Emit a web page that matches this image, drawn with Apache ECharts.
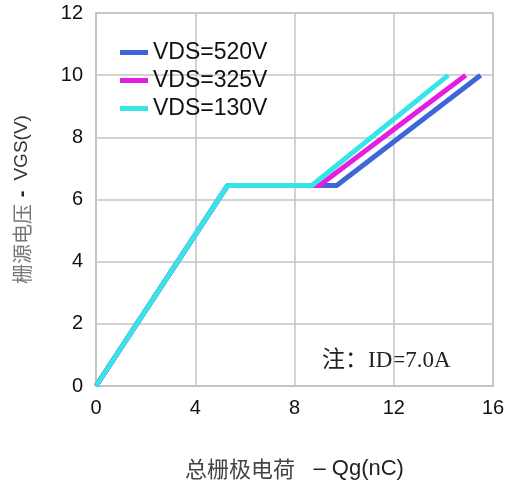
<!DOCTYPE html>
<html>
<head>
<meta charset="utf-8">
<script src="https://cdn.jsdelivr.net/npm/echarts@6/dist/echarts.min.js"></script>
<style>
  html, body { margin: 0; padding: 0; background: #fff; }
  #chart { width: 510px; height: 485px; }
</style>
</head>
<body>
<div id="chart"></div>
<script>
// 系列名称
const seriesNames = ["VDS=520V", "VDS=325V", "VDS=130V"];
const seriesColors = ["#3d66d8", "#e41ee0", "#35e6e8"];

// 各条曲线的 [Qg, VGS] 折点
const vds520 = [[0, 0], [5.3, 6.45], [9.7, 6.45], [15.5, 10]];
const vds325 = [[0, 0], [5.3, 6.45], [9.0, 6.45], [14.9, 10]];
const vds130 = [[0, 0], [5.3, 6.45], [8.7, 6.45], [14.2, 10]];

// 坐标轴刻度
const xTicks = [0, 4, 8, 12, 16];
const yTicks = [0, 2, 4, 6, 8, 10, 12];

const chart = echarts.init(document.getElementById("chart"));

const dataList = [vds520, vds325, vds130];

const option = {
  animation: false,
  grid: {
    left: 96,
    right: 17,
    top: 13,
    bottom: 96,
    show: true,
    borderColor: "#c4c4c4",
    borderWidth: 1.5,
  },
  legend: {
    orient: "vertical",
    left: 115,
    top: 36,
    itemWidth: 28,
    itemHeight: 5,
    itemGap: 5,
    icon: "rect",
    textStyle: {
      fontFamily: "Liberation Sans, Arial",
      fontSize: 23,
      color: "#111",
    },
    data: seriesNames,
  },
  xAxis: {
    type: "value",
    min: xTicks[0],
    max: xTicks[xTicks.length - 1],
    interval: 4,
    name: "{cn|总栅极电荷}{en|   – Qg(nC)}",
    nameLocation: "middle",
    nameGap: 72,
    nameTextStyle: {
      rich: {
        cn: { fontFamily: "Noto Sans CJK SC", fontSize: 22, color: "#444" },
        en: { fontFamily: "Liberation Sans, Arial", fontSize: 22, color: "#222" },
      },
    },
    axisLine: { show: true, lineStyle: { color: "#c4c4c4", width: 1.5 } },
    axisTick: { show: false },
    axisLabel: {
      fontFamily: "Liberation Sans, Arial",
      fontSize: 20,
      color: "#111",
      margin: 12,
    },
    splitLine: { show: true, lineStyle: { color: "#c4c4c4", width: 1.5 } },
  },
  yAxis: {
    type: "value",
    min: yTicks[0],
    max: yTicks[yTicks.length - 1],
    interval: 2,
    name: "{cn|栅源电压}  {d|-}   {en|VGS(V)}",
    nameLocation: "middle",
    nameGap: 64,
    nameRotate: 90,
    nameTextStyle: {
      rich: {
        cn: { fontFamily: "Noto Sans CJK SC", fontSize: 20, color: "#777" },
        d: { fontFamily: "Liberation Sans, Arial", fontSize: 20, fontWeight: "bold", color: "#222" },
        en: { fontFamily: "Liberation Sans, Arial", fontSize: 19, color: "#333" },
      },
    },
    axisLine: { show: true, lineStyle: { color: "#c4c4c4", width: 1.5 } },
    axisTick: { show: false },
    axisLabel: {
      fontFamily: "Liberation Sans, Arial",
      fontSize: 20,
      color: "#111",
      margin: 13,
    },
    splitLine: { show: true, lineStyle: { color: "#c4c4c4", width: 1.5 } },
  },
  graphic: [
    {
      type: "text",
      left: 322,
      top: 349,
      style: {
        text: "注：ID=7.0A",
        font: '23px "Liberation Serif", "Noto Sans CJK SC"',
        fill: "#222",
      },
    },
  ],
  series: dataList.map((d, i) => ({
    name: seriesNames[i],
    type: "line",
    data: d,
    symbol: "none",
    lineStyle: { width: 5, color: seriesColors[i] },
    itemStyle: { color: seriesColors[i] },
    z: 2 + i,
  })),
};

chart.setOption(option);
</script>
</body>
</html>
